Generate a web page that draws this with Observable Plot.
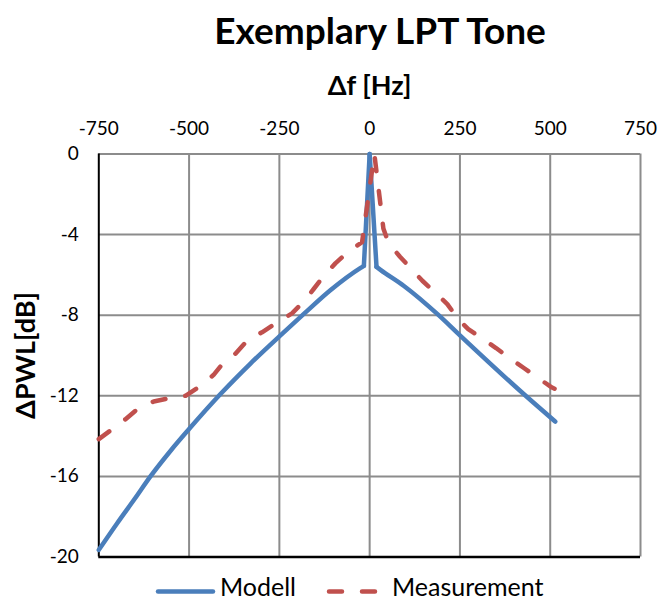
<!DOCTYPE html>
<html>
<head>
<meta charset="utf-8">
<script src="https://cdn.jsdelivr.net/npm/d3@7"></script>
<script src="https://cdn.jsdelivr.net/npm/@observablehq/plot@0.6"></script>
<style>
  body { margin: 0; background: #fff; font-family: Lato, "Open Sans", sans-serif; }
  #wrap { position: relative; width: 660px; height: 601px; overflow: hidden; }
  #title { position: absolute; left: 100px; right: 0; top: 8px; text-align: center;
           font-weight: 700; font-size: 37px; line-height: 44px; color: #000; white-space: nowrap; }
  #chart { position: absolute; left: 0; top: 62px; }
  #legend { position: absolute; left: 0; top: 571px; overflow: visible; }
</style>
</head>
<body>
<div id="wrap">
  <div id="title">Exemplary LPT Tone</div>
  <div id="chart"></div>
  <svg id="legend" width="660" height="30"></svg>
</div>
<script>
// Frequency offset (Hz) and level difference (dB) of the model curve
const modelFreq  = [-750, -700, -650, -607, -550, -500, -415, -330, -250, -183, -108, -25, -16, 0, 19, 30, 95, 191, 250, 432, 514];
const modelLevel = [-19.65, -18.35, -17.1, -16.0, -14.7, -13.65, -11.95, -10.4, -9.05, -7.95, -6.75, -5.65, -5.55, 0, -5.6, -5.75, -6.55, -8.0, -9.0, -12.0, -13.28];

// Measured spectrum around the tone
const measFreq  = [-750, -713, -676, -639, -598, -551, -510, -468, -432, -404, -371, -335, -298, -256, -215, -182, -155, -127, -95, -58, -21, 13, 38, 50, 56, 84, 118, 146, 184, 215, 245, 273, 317, 350, 395, 427, 471, 505, 512];
const measLevel = [-14.15, -13.66, -13.16, -12.6, -12.28, -12.1, -12.0, -11.5, -10.96, -10.34, -9.9, -9.18, -8.85, -8.36, -7.91, -7.31, -6.7, -6.04, -5.43, -4.83, -4.38, 0, -3.7, -4.3, -4.5, -5.1, -5.75, -6.29, -6.92, -7.45, -8.19, -8.69, -9.23, -9.63, -10.23, -10.62, -11.17, -11.59, -11.65];

// Axis ticks
const xTicks = [-750, -500, -250, 0, 250, 500, 750];
const yTicks = [0, -4, -8, -12, -16, -20];

const seriesNames = ["Modell", "Measurement"];
const seriesColors = ["#4a7ebb", "#c0504d"];

// The model is smooth on both flanks but has a sharp tone spike:
// split it into flank / spike pieces so the smoothing keeps the corners.
const peak = modelLevel.indexOf(d3.max(modelLevel));
const pieces = [[0, peak - 1], [peak - 1, peak], [peak, peak + 1], [peak + 1, modelFreq.length - 1]];
const model = pieces.flatMap(([a, b], k) =>
  d3.range(a, b + 1).map(i => ({f: modelFreq[i], v: modelLevel[i], piece: k})));
const meas = measFreq.map((f, i) => ({f, v: measLevel[i]}));

const grid = "#8c8c8c";
const font = "Lato, 'Open Sans', sans-serif";

const chart = Plot.plot({
  width: 660,
  height: 510,
  marginTop: 91.5,
  marginLeft: 98.3,
  marginRight: 20,
  marginBottom: 15.5,
  style: {fontFamily: font, fontSize: "19px", color: "#000", background: "#fff"},
  x: {domain: [-750, 750]},
  y: {domain: [-20, 0]},
  marks: [
    Plot.ruleX(xTicks.slice(1), {stroke: grid, strokeWidth: 2}),
    Plot.ruleY(yTicks.slice(0, -1), {stroke: grid, strokeWidth: 2}),
    Plot.ruleX([-750], {stroke: "#000", strokeWidth: 2}),
    Plot.ruleY([-20], {stroke: "#000", strokeWidth: 2.5}),
    Plot.axisX({anchor: "top", ticks: xTicks, tickSize: 0, tickPadding: 19, tickFormat: d => String(d), label: null, fontSize: 19}),
    Plot.axisY({anchor: "left", ticks: yTicks, tickSize: 0, tickPadding: 20, tickFormat: d => String(d), label: null, fontSize: 19}),
    Plot.line(model, {x: "f", y: "v", z: "piece", curve: "monotone-x", stroke: seriesColors[0], strokeWidth: 4.5, strokeLinejoin: "round"}),
    Plot.line(meas, {x: "f", y: "v", stroke: seriesColors[1], strokeWidth: 4.5, strokeDasharray: "13,20", strokeLinecap: "round", strokeLinejoin: "round"}),
    Plot.text(["Δf [Hz]"], {text: d => d, frameAnchor: "top", dy: -68, lineAnchor: "middle", textAnchor: "middle", fontWeight: "bold", fontSize: 27}),
    Plot.text(["ΔPWL[dB]"], {text: d => d, frameAnchor: "left", dx: -72, rotate: -90, lineAnchor: "middle", textAnchor: "middle", fontWeight: "bold", fontSize: 27})
  ]
});
document.getElementById("chart").appendChild(chart);

// Legend below the plot
const lg = d3.select("#legend");
const items = [
  {x0: 156, x1: 215, tx: 220, dash: null},
  {x0: 327, x1: 380, tx: 392, dash: "13,20"}
];
items.forEach((it, i) => {
  lg.append("line").attr("x1", it.x0 + 2).attr("x2", it.x1 - 2).attr("y1", 20.5).attr("y2", 20.5)
    .attr("stroke", seriesColors[i]).attr("stroke-width", 4.5).attr("stroke-linecap", "round")
    .attr("stroke-dasharray", it.dash);
  lg.append("text").attr("x", it.tx).attr("y", 25).attr("font-size", 25)
    .attr("font-family", font).attr("fill", "#000").text(seriesNames[i]);
});
</script>
</body>
</html>
